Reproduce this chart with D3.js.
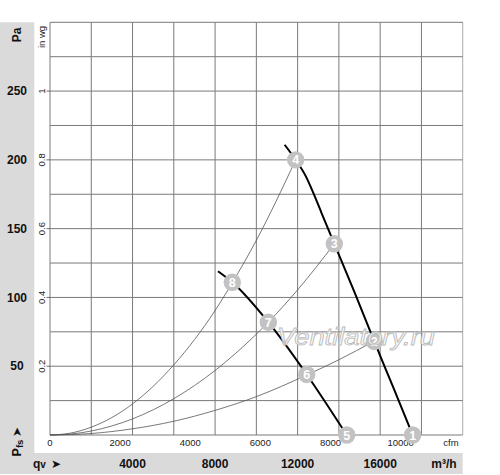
<!DOCTYPE html>
<html><head><meta charset="utf-8">
<script src="https://cdn.jsdelivr.net/npm/d3@7/dist/d3.min.js"></script>
<style>body{margin:0;background:#fff}svg{display:block;font-family:"Liberation Sans",Arial,sans-serif}</style>
</head><body><svg id="c" width="500" height="475"></svg>
<script>
// ---- data ----
const m3hTicks = [4000, 8000, 12000, 16000];
const cfmTicks = [0, 2000, 4000, 6000, 8000, 10000];
const paTicks = [50, 100, 150, 200, 250];
const inwgTicks = [0.2, 0.4, 0.6, 0.8, 1];
// fan curves [m3/h, Pa]
const fanHigh = [[11370,211],[11906,200],[12400,188],[12760,176],[13170,161],[13778,139],[14750,104],[15716,68],[16650,34],[17575,0]];
const fanLow = [[8140,119],[8835,111],[10580,82],[12440,44],[14380,0]];
// system curves [m3/h, Pa]
const sysSteep = [[0,0],[1000,1.4],[2000,5.7],[3000,12.7],[4000,22.6],[6000,51],[8000,90.5],[8835,110.7],[10000,141.5],[11906,200]];
const sysMid = [[0,0],[1000,0.7],[2000,2.9],[3000,6.6],[4000,11.7],[6000,26.4],[8000,46.9],[10000,73.3],[10580,82],[12000,105.5],[13778,139]];
const sysLow = [[0,0],[1000,0.3],[2000,1.1],[4000,4.5],[6000,10],[8000,17.9],[10000,27.9],[12440,43.6],[14000,54.7],[15716,68.3]];
// operating-point markers
const markerLabels = ["1","2","3","4","5","6","7","8"];
const markerQ = [17575,15716,13778,11906,14380,12440,10580,8835];
const markerP = [0,68,139,200,0,44,82,111];

// ---- layout ----
const svg = d3.select("#c");
const L = 50, R = 462.7, T = 22.3, B = 435;
const x = d3.scaleLinear().domain([0, 20000]).range([L, R]);
const y = d3.scaleLinear().domain([0, 300]).range([B, T]);
const xCfm = d3.scaleLinear().domain([0, 20000/1.699]).range([L, R]);
const yIn = d3.scaleLinear().domain([0, 300/250]).range([B, T]);
const grey = "#dadada";

// grey bands
svg.append("rect").attr("x",0).attr("y",T).attr("width",34.3).attr("height",474-T).attr("fill",grey);
svg.append("rect").attr("x",0).attr("y",453).attr("width",R).attr("height",21).attr("fill",grey);

// grid
const g = svg.append("g");
g.selectAll("line.v").data(d3.range(0, 20001, 2000)).join("line")
  .attr("x1",d=>x(d)).attr("x2",d=>x(d)).attr("y1",T).attr("y2",B)
  .attr("stroke",d=>d===20000?"#aaa":"#7a7a7a").attr("stroke-width",1);
g.selectAll("line.h").data(d3.range(0, 301, 25)).join("line")
  .attr("x1",L).attr("x2",R).attr("y1",d=>y(d)).attr("y2",d=>y(d))
  .attr("stroke","#7a7a7a").attr("stroke-width",1);

// in wg axis ticks
svg.selectAll("line.iw").data(inwgTicks).join("line")
  .attr("x1",46.5).attr("x2",L).attr("y1",d=>yIn(d)).attr("y2",d=>yIn(d))
  .attr("stroke","#444").attr("stroke-width",0.8);
svg.selectAll("text.iw").data(inwgTicks).join("text")
  .attr("transform",d=>`translate(44.5,${yIn(d)}) rotate(-90)`)
  .attr("text-anchor","middle").attr("font-size",9.5).attr("fill","#222")
  .text(d=>d);
svg.append("text").attr("transform","translate(44.5,37) rotate(-90)")
  .attr("text-anchor","middle").attr("font-size",9.5).attr("fill","#222").text("in wg");

// Pa axis labels
svg.selectAll("text.pa").data(paTicks).join("text")
  .attr("x",17).attr("y",d=>y(d)+4.2).attr("text-anchor","middle")
  .attr("font-size",12).attr("font-weight","bold").attr("fill","#111").text(d=>d);
svg.append("text").attr("transform","translate(20.5,35) rotate(-90)")
  .attr("text-anchor","middle").attr("font-size",12).attr("font-weight","bold").attr("fill","#111").text("Pa");
// Pfs label
const pfs = svg.append("text").attr("transform","translate(21,448) rotate(-90)")
  .attr("text-anchor","middle").attr("font-weight","bold").attr("fill","#111");
pfs.append("tspan").attr("font-size",12.5).text("P");
pfs.append("tspan").attr("font-size",9.5).attr("dy",2).text("fs");
svg.append("text").attr("transform","translate(21,432) rotate(-90)")
  .attr("text-anchor","middle").attr("font-size",12).attr("fill","#111").text("\u27A4");

// cfm axis labels
svg.selectAll("text.cfm").data(cfmTicks).join("text")
  .attr("x",d=>xCfm(d)).attr("y",446).attr("text-anchor","middle")
  .attr("font-size",9.5).attr("fill","#222").text(d=>d);
svg.append("text").attr("x",451).attr("y",446).attr("text-anchor","middle")
  .attr("font-size",9.5).attr("fill","#222").text("cfm");

// m3/h axis labels
svg.selectAll("text.m3").data(m3hTicks).join("text")
  .attr("x",d=>x(d)).attr("y",467.5).attr("text-anchor","middle")
  .attr("font-size",12).attr("font-weight","bold").attr("fill","#111").text(d=>d);
svg.append("text").attr("x",444).attr("y",467.5).attr("text-anchor","middle")
  .attr("font-size",12).attr("font-weight","bold").attr("fill","#111").text("m³/h");
const qv = svg.append("text").attr("x",33).attr("y",467.5).attr("font-weight","bold").attr("fill","#111");
qv.append("tspan").attr("font-size",12).text("q");
qv.append("tspan").attr("font-size",10).text("v");
svg.append("text").attr("x",51).attr("y",467.5).attr("font-size",12).attr("fill","#111").text("\u27A4");

// curves
const line = d3.line().x(d=>x(d[0])).y(d=>y(d[1])).curve(d3.curveMonotoneX);
[sysSteep, sysMid, sysLow].forEach(s=>{
  svg.append("path").attr("d",line(s)).attr("fill","none").attr("stroke","#555").attr("stroke-width",0.8);
});
[fanHigh, fanLow].forEach(s=>{
  svg.append("path").attr("d",line(s)).attr("fill","none").attr("stroke","#000").attr("stroke-width",2);
});

// markers
const mk = svg.selectAll("g.mk").data(markerLabels).join("g")
  .attr("transform",(d,i)=>`translate(${x(markerQ[i])},${y(markerP[i])})`);
mk.append("circle").attr("r",8.7).attr("fill","#c2c2c2");
mk.append("text").attr("y",4.5).attr("text-anchor","middle").attr("font-size",12.5)
  .attr("font-weight","bold").attr("fill","#fff").text(d=>d);

// watermark
svg.append("text").attr("x",356).attr("y",345).attr("text-anchor","middle")
  .attr("font-family","'Liberation Sans',Arial,sans-serif").attr("font-style","italic")
  .attr("font-size",24).attr("textLength",158).attr("lengthAdjust","spacingAndGlyphs")
  .attr("fill","#fff").attr("fill-opacity",0.8).attr("stroke","#bdbdbd").attr("stroke-width",0.9)
  .text("Ventilatory.ru");
</script></body></html>
